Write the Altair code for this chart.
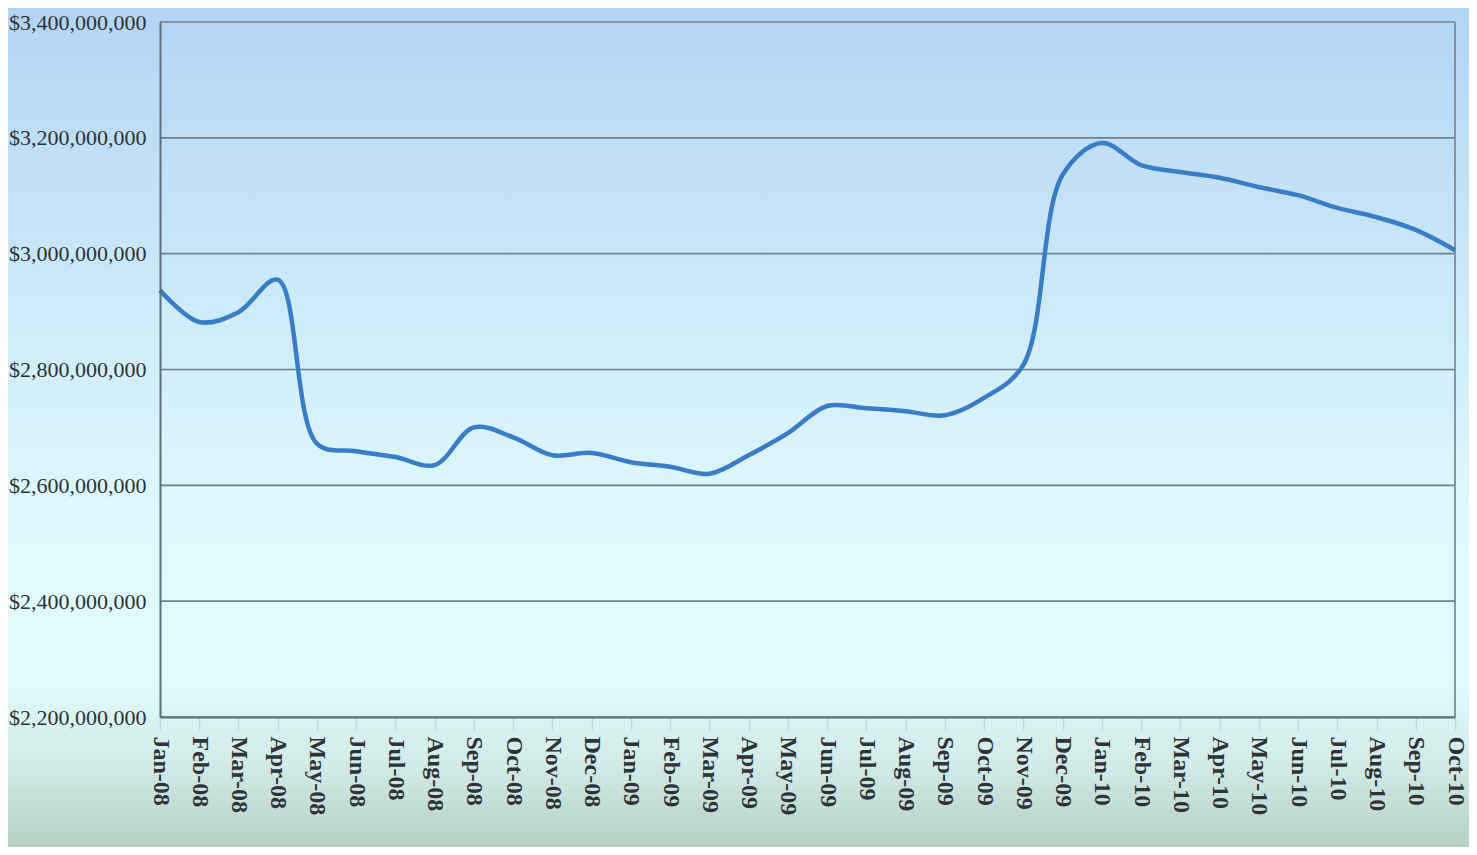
import altair as alt
import pandas as pd

months = ["Jan-08", "Feb-08", "Mar-08", "Apr-08", "May-08", "Jun-08", "Jul-08", "Aug-08",
          "Sep-08", "Oct-08", "Nov-08", "Dec-08", "Jan-09", "Feb-09", "Mar-09", "Apr-09",
          "May-09", "Jun-09", "Jul-09", "Aug-09", "Sep-09", "Oct-09", "Nov-09", "Dec-09",
          "Jan-10", "Feb-10", "Mar-10", "Apr-10", "May-10", "Jun-10", "Jul-10", "Aug-10",
          "Sep-10", "Oct-10"]
values = [2937e6, 2882e6, 2899e6, 2955e6, 2672e6, 2659e6, 2649e6, 2635e6,
          2700e6, 2683e6, 2652e6, 2656e6, 2640e6, 2632e6, 2620e6, 2652e6,
          2690e6, 2737e6, 2733e6, 2728e6, 2721e6, 2751e6, 2808e6, 3136e6,
          3191e6, 3153e6, 3141e6, 3131e6, 3115e6, 3101e6, 3079e6, 3063e6,
          3041e6, 3006e6]
y_ticks = [2.2e9, 2.4e9, 2.6e9, 2.8e9, 3.0e9, 3.2e9, 3.4e9]

W, H = 1295, 695
PL, PT, PR, PB = 152, 14, 14, 130

df = pd.DataFrame({"month": months, "value": values})
grid_df = pd.DataFrame({"value": y_ticks})

xscale = alt.Scale(domain=months, padding=0)
yscale = alt.Scale(domain=[2.2e9, 3.4e9], nice=False, zero=False)

yaxis = alt.Axis(values=y_ticks, format="$,.0f", labelFont="Liberation Serif",
                 labelFontSize=22, labelColor="#2e3338", labelPadding=14,
                 ticks=False, domainColor="#5d6e7c", domainWidth=2,
                 grid=False, zindex=1, minExtent=PL, maxExtent=PL)

gradient = alt.Gradient(
    gradient="linear", x1=0, y1=0, x2=0, y2=1,
    stops=[
        alt.GradientStop(color="#b3d4f4", offset=0),
        alt.GradientStop(color="#cdeaf9", offset=0.35),
        alt.GradientStop(color="#def8fd", offset=0.6),
        alt.GradientStop(color="#e1fbfd", offset=0.8),
        alt.GradientStop(color="#d2ebe8", offset=0.9),
        alt.GradientStop(color="#b6d0c3", offset=1),
    ],
)

bg = alt.Chart(df).mark_rect(color=gradient).encode(
    x=alt.value(-PL), x2=alt.value(W + PR),
    y=alt.value(-PT), y2=alt.value(H + PB),
).transform_filter(alt.datum.month == "Jan-08")

grid = alt.Chart(grid_df).mark_rule(color="#6f808f", strokeWidth=1.6).encode(
    y=alt.Y("value:Q", scale=yscale, title=None, axis=yaxis)
)

right_border = alt.Chart(df).mark_rule(color="#6f808f", strokeWidth=1.6).encode(
    x=alt.value(W), y=alt.value(0), y2=alt.value(H)
).transform_filter(alt.datum.month == "Jan-08")

line = alt.Chart(df).mark_line(
    color="#3a7cc6", strokeWidth=4.5, interpolate="catmull-rom"
).encode(
    x=alt.X("month:O", sort=months, scale=xscale, title=None,
            axis=alt.Axis(labelAngle=90, labelFont="Liberation Serif", labelFontSize=24,
                          labelFontWeight="bold", labelColor="#2e3338", labelPadding=6,
                          labelBaseline="middle", labelAlign="left",
                          tickColor="#c8d6de", tickSize=13, tickWidth=1.5,
                          domainColor="#5d6e7c", domainWidth=2, grid=False, zindex=1,
                          labelOverlap=False, minExtent=PB, maxExtent=PB)),
    y=alt.Y("value:Q", scale=yscale, title=None, axis=yaxis),
)

chart = alt.layer(bg, grid, right_border, line).properties(
    width=W, height=H,
    autosize=alt.AutoSizeParams(type="none"),
    padding={"left": PL, "top": PT, "right": PR, "bottom": PB},
).configure_view(stroke=None).configure(background="#e8f6fb")

chart.save("out.html", embed_options={"renderer": "svg", "actions": False})
